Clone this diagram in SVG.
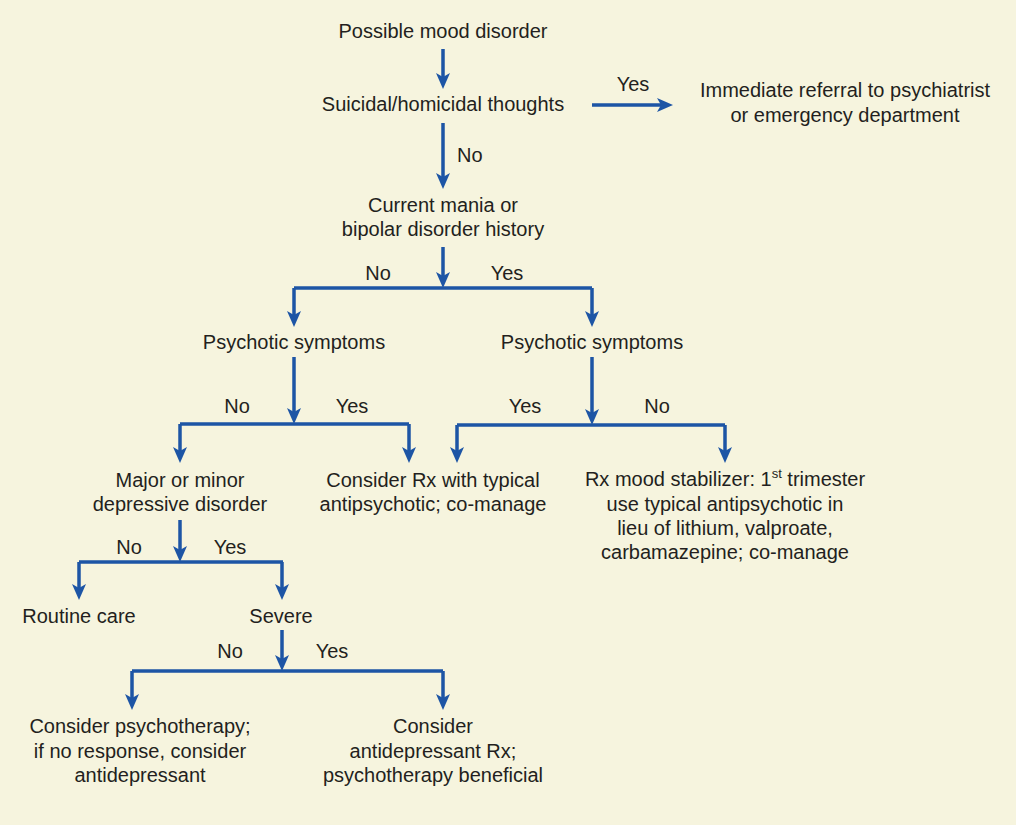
<svg xmlns="http://www.w3.org/2000/svg" width="1016" height="825" viewBox="0 0 1016 825">
<defs>
<style>
.t{font-family:"Liberation Sans",Arial,Helvetica,sans-serif;font-size:20px;fill:#231f20;text-anchor:middle}
.s{font-family:"Liberation Sans",Arial,Helvetica,sans-serif;font-size:20px;fill:#231f20;text-anchor:start}
.c{fill:none;stroke:#1d55a5;stroke-width:3.5}
.a{marker-end:url(#ah)}
</style>
<marker id="ah" markerUnits="userSpaceOnUse" viewBox="0 0 16 14" markerWidth="16" markerHeight="14" refX="6" refY="7" orient="auto">
<path d="M0,0 L16,7 L0,14 L4,7 Z" fill="#1d55a5"/>
</marker>
</defs>
<rect width="1016" height="825" fill="#f6f4de"/>
<g id="connectors">
<path class="c a" d="M443,49 V79"/>
<path class="c a" d="M592,105 H663"/>
<path class="c a" d="M443,123 V179"/>
<path class="c a" d="M443,247 V278"/>
<path class="c" d="M294,288 H592"/>
<path class="c a" d="M294,288 V317"/>
<path class="c a" d="M592,288 V317"/>
<path class="c a" d="M294,357 V414"/>
<path class="c" d="M180,424 H409"/>
<path class="c a" d="M180,424 V453"/>
<path class="c a" d="M409,424 V453"/>
<path class="c a" d="M592,357 V415"/>
<path class="c" d="M457,425 H725"/>
<path class="c a" d="M457,425 V453"/>
<path class="c a" d="M725,425 V453"/>
<path class="c a" d="M180,520 V552"/>
<path class="c" d="M79,562 H283"/>
<path class="c a" d="M79,562 V590"/>
<path class="c a" d="M282,562 V590"/>
<path class="c a" d="M282,630 V661"/>
<path class="c" d="M132,671 H443"/>
<path class="c a" d="M132,671 V700"/>
<path class="c a" d="M443,671 V700"/>
</g>
<g id="labels">
<text class="t" x="633" y="91">Yes</text>
<text class="s" x="457" y="162">No</text>
<text class="t" x="378" y="280">No</text>
<text class="t" x="507" y="280">Yes</text>
<text class="t" x="237" y="413">No</text>
<text class="t" x="352" y="413">Yes</text>
<text class="t" x="525" y="413">Yes</text>
<text class="t" x="657" y="413">No</text>
<text class="t" x="129" y="554">No</text>
<text class="t" x="230" y="554">Yes</text>
<text class="t" x="230" y="658">No</text>
<text class="t" x="332" y="658">Yes</text>
</g>
<g id="n-start"><text class="t" x="443" y="38">Possible mood disorder</text></g>
<g id="n-suicidal"><text class="t" x="443" y="111">Suicidal/homicidal thoughts</text></g>
<g id="n-referral">
<text class="t" x="845" y="97">Immediate referral to psychiatrist</text>
<text class="t" x="845" y="122">or emergency department</text>
</g>
<g id="n-mania">
<text class="t" x="443" y="212">Current mania or</text>
<text class="t" x="443" y="236">bipolar disorder history</text>
</g>
<g id="n-psy-left"><text class="t" x="294" y="349">Psychotic symptoms</text></g>
<g id="n-psy-right"><text class="t" x="592" y="349">Psychotic symptoms</text></g>
<g id="n-depressive">
<text class="t" x="180" y="487">Major or minor</text>
<text class="t" x="180" y="511">depressive disorder</text>
</g>
<g id="n-antipsychotic">
<text class="t" x="433" y="487">Consider Rx with typical</text>
<text class="t" x="433" y="511">antipsychotic; co-manage</text>
</g>
<g id="n-stabilizer">
<text class="t" x="725" y="486">Rx mood stabilizer: 1<tspan font-size="13" dy="-8">st</tspan><tspan dy="8"> trimester</tspan></text>
<text class="t" x="725" y="511">use typical antipsychotic in</text>
<text class="t" x="725" y="535">lieu of lithium, valproate,</text>
<text class="t" x="725" y="559">carbamazepine; co-manage</text>
</g>
<g id="n-routine"><text class="t" x="79" y="623">Routine care</text></g>
<g id="n-severe"><text class="t" x="281" y="623">Severe</text></g>
<g id="n-psychotherapy">
<text class="t" x="140" y="733">Consider psychotherapy;</text>
<text class="t" x="140" y="758">if no response, consider</text>
<text class="t" x="140" y="782">antidepressant</text>
</g>
<g id="n-antidepressant">
<text class="t" x="433" y="733">Consider</text>
<text class="t" x="433" y="758">antidepressant Rx;</text>
<text class="t" x="433" y="782">psychotherapy beneficial</text>
</g>
</svg>
